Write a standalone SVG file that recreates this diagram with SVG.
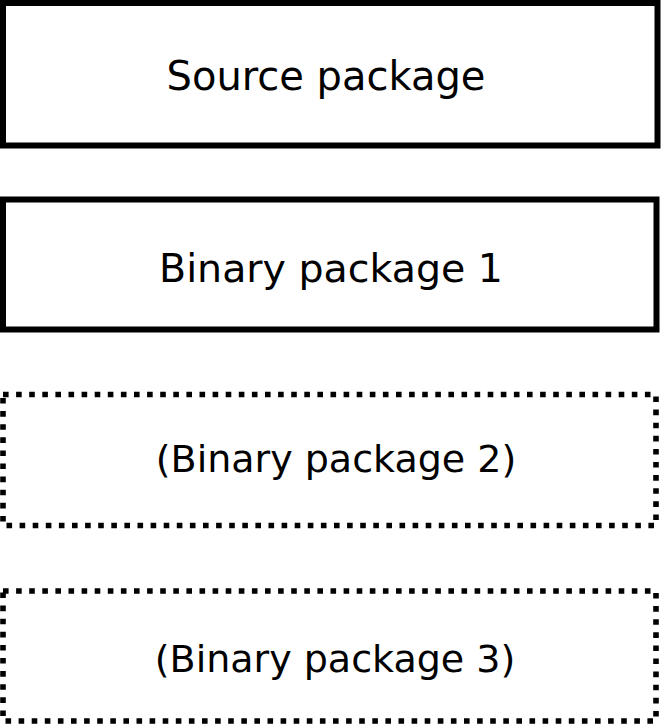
<svg xmlns="http://www.w3.org/2000/svg" width="661" height="726" viewBox="0 0 661 726">
<style>
.box{fill:#fff;stroke:#000;stroke-width:6}
.dot{fill:#fff;stroke:#000;stroke-width:5.6;stroke-dasharray:5.6 7.5}
.lbl{font-family:"DejaVu Sans",sans-serif;font-size:40px;fill:#000;text-anchor:middle}
.sm{font-size:38px}
</style>
<rect width="661" height="726" fill="#fff"/>
<g id="source">
<rect class="box" x="3" y="3" width="654.5" height="142.5"/>
<text class="lbl" x="326" y="90">Source package</text>
</g>
<g id="binary1">
<rect class="box" x="3" y="199.5" width="653.5" height="130"/>
<text class="lbl" x="331" y="282" style="font-size:39.5px">Binary package 1</text>
</g>
<g id="binary2">
<rect class="dot" x="3" y="394.5" width="653" height="131"/>
<text class="lbl sm" x="336" y="472">(Binary package 2)</text>
</g>
<g id="binary3">
<rect class="dot" x="3" y="591" width="653" height="130"/>
<text class="lbl sm" x="335" y="672">(Binary package 3)</text>
</g>
<g id="connectors"></g>
</svg>
